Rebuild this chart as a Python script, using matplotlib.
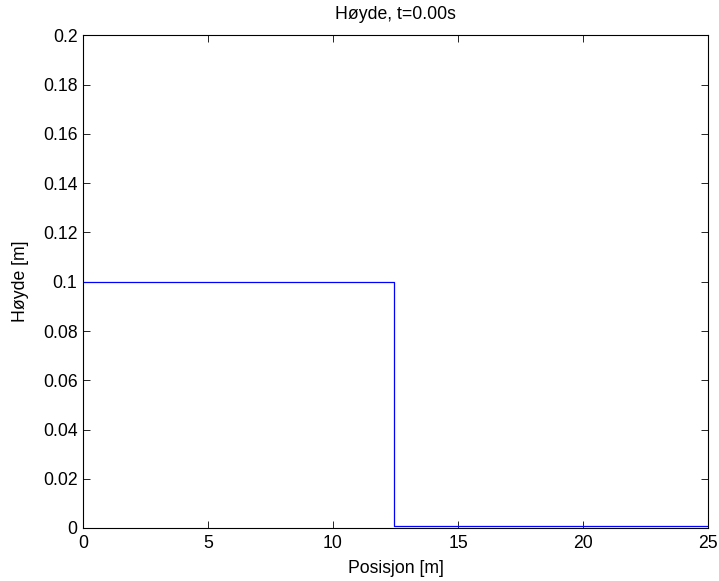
import numpy as np
import matplotlib.pyplot as plt

plt.rcParams['font.family'] = ['Liberation Sans', 'DejaVu Sans']
plt.rcParams['font.size'] = 12.7

# dam-break initial state: water column on the left half
posisjon = [0.0, 12.45, 12.45, 25.0]
hoyde = [0.1, 0.1, 0.0008, 0.0008]
t = 0.0

fig = plt.figure(figsize=(7.19, 5.81), dpi=100)
ax = fig.add_axes([83/719, 1 - 528/581, 625/719, 492.5/581])

ax.plot(posisjon, hoyde, color=(0, 0, 1), linewidth=0.9)

ax.set_xlim(0, 25)
ax.set_ylim(0, 0.2)
ax.set_xticks(np.arange(0, 26, 5))
ax.set_yticks(np.arange(0, 0.201, 0.02))
ax.set_xticklabels(['0', '5', '10', '15', '20', '25'])
ax.set_yticklabels(['0', '0.02', '0.04', '0.06', '0.08', '0.1',
                    '0.12', '0.14', '0.16', '0.18', '0.2'])
ax.tick_params(direction='in', top=True, right=True, length=5, width=0.6,
               pad=4)
ax.tick_params(axis='x', pad=5)
for s in ax.spines.values():
    s.set_linewidth(0.8)

ax.set_xlabel('Posisjon [m]', labelpad=6)
ax.set_ylabel('Høyde [m]', labelpad=10)
ax.set_title('Høyde, t=%.2fs' % t, fontsize=12.7, pad=12)

fig.savefig('out.png', dpi=100)
